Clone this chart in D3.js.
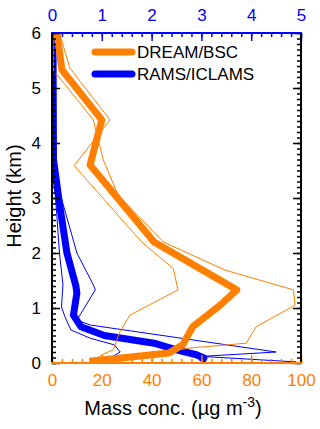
<!DOCTYPE html>
<html>
<head>
<meta charset="utf-8">
<script src="https://cdn.jsdelivr.net/npm/d3@7"></script>
<style>
  body { margin: 0; background: #fff; }
  svg { display: block; font-family: "Liberation Sans", Arial, sans-serif; }
</style>
</head>
<body>
<svg id="chart" width="320" height="429"></svg>
<script>
// DREAM/BSC profiles, mass conc. in ug m-3 (bottom axis)
const dreamMeanH = [6, 5.33, 4.42, 3.6, 2.2, 1.33, 1.05, 0.66, 0.33, 0.18, 0.03];
const dreamMeanV = [2, 4, 20, 15.3, 41, 74.2, 67.5, 56.5, 52.5, 47, 15];
const dreamHiH = [6, 5.33, 4.42, 3.69, 3.05, 2.2, 2.02, 1.69, 1.42, 1.33, 1.05, 0.66, 0.36, 0.27, 0.15, 0.02];
const dreamHiV = [0.5, 0.5, 16.6, 20.6, 26.6, 44.7, 53.4, 69.5, 90, 97, 97.6, 82, 78, 55, 40, 22];
const dreamLoH = [6, 5.36, 4.42, 3.59, 2.2, 1.72, 1.33, 0.87, 0.57, 0.24, 0.15, 0.02];
const dreamLoV = [3, 7.2, 23.3, 8.9, 36, 48.7, 50.6, 31.3, 27.3, 24.6, 20, 16];

// RAMS/ICLAMS profiles (top axis, 0-5)
const ramsMeanH = [6, 3.7, 2.9, 2.0, 1.4, 1.27, 0.87, 0.66, 0.5, 0.36, 0.24, 0.15, 0.09, 0.02];
const ramsMeanV = [0.02, 0.03, 0.15, 0.3, 0.48, 0.5, 0.43, 0.58, 1.05, 2.05, 2.5, 2.9, 3.05, 3.0];
const ramsHiH = [6, 3.7, 3.09, 2.0, 1.42, 1.33, 0.78, 0.69, 0.2, 0.12, 0.02];
const ramsHiV = [0.02, 0.05, 0.16, 0.5, 0.83, 0.87, 0.5, 0.77, 4.5, 3.0, 4.9];
const ramsLoH = [6, 3.7, 2.9, 2.0, 1.42, 1.02, 0.84, 0.6, 0.45, 0.33, 0.2, 0.02];
const ramsLoV = [0, 0.01, 0.08, 0.15, 0.22, 0.19, 0.26, 0.38, 0.77, 1.25, 1.37, 1.03];

const bottomTicks = [0, 20, 40, 60, 80, 100];
const topTicks = [0, 1, 2, 3, 4, 5];
const heightTicks = [0, 1, 2, 3, 4, 5, 6];

const orange = "#ff8000", blue = "#0000ff";
const margin = {left: 52, right: 19, top: 33, bottom: 66};
const width = 320, height = 429;

const svg = d3.select("#chart");

const x = d3.scaleLinear().domain([0, 100]).range([margin.left, width - margin.right]);
const xTop = d3.scaleLinear().domain([0, 5]).range([margin.left, width - margin.right]);
const y = d3.scaleLinear().domain([0, 6]).range([height - margin.bottom, margin.top]);

const x0 = x.range()[0], x1 = x.range()[1], y0 = y.range()[0], y1 = y.range()[1];
const fmt = d3.format("d");

svg.append("clipPath").attr("id", "plotclip")
  .append("rect").attr("x", x0).attr("y", y1).attr("width", x1 - x0).attr("height", y0 - y1);

function zip(h, v){return h.map((d, i) => [v[i], d]);}

const lineBottom = d3.line().x(d => x(d[0])).y(d => y(d[1]));
const lineTop = d3.line().x(d => xTop(d[0])).y(d => y(d[1]));

const plot = svg.append("g").attr("clip-path", "url(#plotclip)");

// blue first, orange over it
[[ramsHiH, ramsHiV], [ramsLoH, ramsLoV]].forEach(s => {
  plot.append("path").datum(zip(s[0], s[1]))
    .attr("d", lineTop).attr("fill", "none").attr("stroke", blue).attr("stroke-width", 1);
});
plot.append("path").datum(zip(ramsMeanH, ramsMeanV))
  .attr("d", lineTop).attr("fill", "none").attr("stroke", blue)
  .attr("stroke-width", 7).attr("stroke-linejoin", "round");

[[dreamHiH, dreamHiV], [dreamLoH, dreamLoV]].forEach(s => {
  plot.append("path").datum(zip(s[0], s[1]))
    .attr("d", lineBottom).attr("fill", "none").attr("stroke", orange).attr("stroke-width", 1);
});
plot.append("path").datum(zip(dreamMeanH, dreamMeanV))
  .attr("d", lineBottom).attr("fill", "none").attr("stroke", orange)
  .attr("stroke-width", 7).attr("stroke-linejoin", "round");

// axes: ticks point inwards
function styleAxis(g, color){
  g.select(".domain").remove();
  g.selectAll("line").attr("stroke", color).attr("stroke-width", 1.5);
  g.selectAll("text").attr("fill", color).attr("font-size", 17);
}

// bottom (orange)
svg.append("g").attr("transform", `translate(0,${y0})`)
  .call(d3.axisBottom(x).tickValues(d3.range(0, 101, 4)).tickSize(-4).tickFormat(""))
  .call(g => styleAxis(g, orange));
svg.append("g").attr("transform", `translate(0,${y0})`)
  .call(d3.axisBottom(x).tickValues(bottomTicks).tickSize(-8).tickPadding(11).tickFormat(fmt))
  .call(g => styleAxis(g, orange));

// top (blue)
svg.append("g").attr("transform", `translate(0,${y1})`)
  .call(d3.axisTop(xTop).tickValues(d3.range(0, 5.01, 0.2)).tickSize(-4).tickFormat(""))
  .call(g => styleAxis(g, blue));
svg.append("g").attr("transform", `translate(0,${y1})`)
  .call(d3.axisTop(xTop).tickValues(topTicks).tickSize(-8).tickPadding(12).tickFormat(fmt))
  .call(g => styleAxis(g, blue));

// left and right (black)
const minorH = d3.range(0, 60.5, 1).map(d => d / 10);
svg.append("g").attr("transform", `translate(${x0},0)`)
  .call(d3.axisLeft(y).tickValues(minorH).tickSize(-4).tickFormat(""))
  .call(g => styleAxis(g, "#000"));
svg.append("g").attr("transform", `translate(${x0},0)`)
  .call(d3.axisLeft(y).tickValues(heightTicks).tickSize(-8).tickPadding(11).tickFormat(fmt))
  .call(g => styleAxis(g, "#000"));
svg.append("g").attr("transform", `translate(${x1},0)`)
  .call(d3.axisRight(y).tickValues(minorH).tickSize(-4).tickFormat(""))
  .call(g => styleAxis(g, "#000"));
svg.append("g").attr("transform", `translate(${x1},0)`)
  .call(d3.axisRight(y).tickValues(heightTicks).tickSize(-8).tickFormat(""))
  .call(g => styleAxis(g, "#000"));

// spines
svg.append("line").attr("x1", x0).attr("x2", x0).attr("y1", y1).attr("y2", y0).attr("stroke", "#000").attr("stroke-width", 2);
svg.append("line").attr("x1", x1).attr("x2", x1).attr("y1", y1).attr("y2", y0).attr("stroke", "#000").attr("stroke-width", 2);
svg.append("line").attr("x1", x0 - 1).attr("x2", x1 + 1).attr("y1", y1).attr("y2", y1).attr("stroke", blue).attr("stroke-width", 2);
svg.append("line").attr("x1", x0 - 1).attr("x2", x1 + 1).attr("y1", y0).attr("y2", y0).attr("stroke", orange).attr("stroke-width", 2);

// legend
const legend = svg.append("g");
[["DREAM/BSC", orange, 52], ["RAMS/ICLAMS", blue, 74]].forEach(d => {
  legend.append("line").attr("x1", 95).attr("x2", 132).attr("y1", d[2]).attr("y2", d[2])
    .attr("stroke", d[1]).attr("stroke-width", 7).attr("stroke-linecap", "round");
  legend.append("text").attr("x", 137).attr("y", d[2] + 6).attr("font-size", 17)
    .attr("fill", "#000").text(d[0]);
});

// axis titles
svg.append("text")
  .attr("transform", "translate(21,196) rotate(-90)")
  .attr("text-anchor", "middle").attr("font-size", 20).attr("fill", "#000")
  .text("Height (km)");

const xt = svg.append("text").attr("x", 173).attr("y", 415)
  .attr("text-anchor", "middle").attr("font-size", 20).attr("fill", "#000");
xt.append("tspan").text("Mass conc. (\u00b5g m");
xt.append("tspan").attr("dy", -8).attr("font-size", 14).text("-3");
xt.append("tspan").attr("dy", 8).text(")");
</script>
</body>
</html>
